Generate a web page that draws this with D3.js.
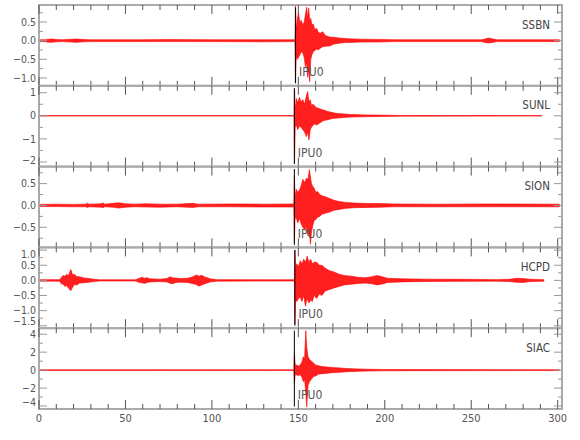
<!DOCTYPE html>
<html>
<head>
<meta charset="utf-8">
<script src="https://cdn.jsdelivr.net/npm/d3@7"></script>
<style>
body { margin: 0; background: #fff; }
svg { display: block; font-family: "DejaVu Sans Condensed", "DejaVu Sans", sans-serif; }
</style>
</head>
<body>
<div id="chart"></div>
<script>
const stations = ["SSBN", "SUNL", "SION", "HCPD", "SIAC"];
const pickTimes = [148.4, 147.7, 147.7, 148.0, 147.7];
const pickLabel = "IPU0";
const yMin = [-1.21, -2.2, -0.96, -1.58, -4.33];
const yMax = [0.957, 1.3, 0.89, 1.09, 4.67];
const majorStep = [0.5, 1, 0.5, 0.5, 2];
const minorStep = [0.25, 0.5, 0.25, 0.25, 1];
const labelFormat = [".1f", "d", ".1f", ".1f", "d"];
const xTicks = [0, 50, 100, 150, 200, 250, 300];
const timeMax = 302.5;

// trace envelopes: [time s, max, min]
const ssbn = [[0,.025,-.025],[4,.025,-.025],[5,.04,-.04],[8,.045,-.04],[10,.03,-.03],[14,.025,-.025],[18,.04,-.035],[22,.045,-.045],[26,.03,-.03],[30,.025,-.025],[60,.025,-.025],[75,.03,-.025],[100,.025,-.025],[130,.025,-.03],[148,.025,-.025],
  [148.3,.93,-1.12],[148.8,.3,-.4],[149.4,.6,-.5],[150.1,.74,-.45],[150.9,.47,-.38],[151.6,.55,-.3],[152.6,.42,-.33],[153.4,.5,-.45],[154.1,.7,-.7],[154.8,.9,-.6],[155.4,.6,-.98],[156,.88,-.8],[156.6,.5,-1.1],[157.2,.6,-.5],[157.8,.42,-.38],[158.6,.45,-.3],[159.6,.3,-.26],[160.6,.33,-.22],[161.6,.22,-.25],[162.6,.2,-.2],[164.1,.24,-.16],[165.6,.14,-.15],[168.1,.1,-.14],[170.6,.09,-.09],[173.6,.07,-.07],[176.6,.06,-.05],[179.6,.05,-.05],[186,.04,-.035],[196,.035,-.035],[206,.025,-.025],[256,.025,-.025],[258,.045,-.05],[260,.07,-.06],[262,.05,-.05],[265,.025,-.025],[301,.025,-.025]];

const sunl = [[0,.01,-.01],[147.5,.01,-.01],[147.8,1.2,-2.0],[148.2,.3,-.5],[148.9,.75,-.4],[149.6,.55,-.6],[150.6,.8,-.45],[151.6,.6,-.5],[152.6,.7,-.6],[153.6,.5,-.7],[154.6,.85,-.9],[155.4,1.05,-.7],[156.1,.6,-1.05],[156.9,.7,-.6],[157.6,.45,-.5],[158.6,.5,-.4],[159.6,.4,-.35],[160.6,.35,-.4],[162.6,.3,-.3],[164.6,.25,-.2],[166.6,.2,-.18],[169.6,.14,-.12],[172.6,.1,-.1],[176.6,.08,-.07],[180.6,.06,-.05],[188,.04,-.04],[196,.03,-.03],[210,.015,-.015],[290.8,.01,-.01]];

const sion = [[0,.025,-.025],[10,.03,-.025],[20,.025,-.03],[27,.03,-.03],[28,.05,-.045],[29,.03,-.03],[36,.04,-.04],[37,.06,-.05],[38,.03,-.03],[43,.05,-.04],[46,.06,-.06],[50,.04,-.04],[55,.03,-.03],[62,.04,-.035],[70,.03,-.04],[80,.03,-.03],[89,.05,-.045],[92,.03,-.03],[110,.035,-.03],[130,.03,-.035],[147.4,.035,-.035],
  [147.7,.67,-.85],[148.1,.2,-.3],[148.8,.37,-.28],[149.6,.3,-.4],[150.6,.35,-.3],[151.6,.45,-.42],[152.6,.6,-.5],[153.6,.52,-.55],[154.6,.62,-.5],[155.6,.6,-.7],[156.4,.82,-.6],[157,.65,-.89],[157.6,.5,-.6],[158.3,.44,-.47],[159.1,.4,-.35],[160.1,.3,-.32],[161.1,.32,-.27],[162.4,.25,-.25],[163.6,.22,-.2],[165.6,.2,-.18],[168.1,.16,-.15],[170.6,.12,-.11],[173.6,.09,-.09],[177.6,.07,-.065],[182.6,.055,-.05],[190,.045,-.045],[197,.045,-.04],[205,.035,-.03],[230,.03,-.03],[260,.035,-.03],[301,.03,-.03]];

const hcpd = [[0,.025,-.025],[12,.025,-.025],[13,.1,-.12],[14,.16,-.12],[15,.14,-.2],[16,.2,-.17],[17,.15,-.25],[18.4,.36,-.34],[19.5,.18,-.22],[20.5,.2,-.14],[22,.12,-.15],[23.5,.12,-.09],[26,.08,-.08],[29,.06,-.06],[32,.035,-.035],[35,.02,-.02],[56,.02,-.02],[58,.07,-.07],[59.5,.1,-.08],[61,.07,-.1],[62.5,.09,-.07],[64,.05,-.05],[70,.04,-.04],[74,.06,-.05],[76,.12,-.1],[77.5,.08,-.11],[79,.08,-.07],[82,.06,-.06],[86,.07,-.07],[89,.12,-.11],[91,.18,-.14],[92.5,.14,-.19],[94,.17,-.15],[96,.11,-.11],[99,.05,-.05],[103,.025,-.025],[147.7,.02,-.02],
  [148,1.0,-1.45],[148.4,.4,-.6],[149.1,.55,-.7],[150.1,.45,-.6],[151.1,.65,-.55],[152.1,.55,-.7],[153.1,.7,-.5],[154.1,.6,-.85],[155.1,.8,-.6],[156.1,.6,-.75],[157.1,.7,-.65],[158.1,.55,-.7],[159.1,.6,-.5],[160.6,.6,-.6],[162.1,.5,-.45],[163.6,.5,-.5],[165.6,.4,-.35],[168.1,.32,-.3],[170.6,.28,-.25],[173.6,.2,-.2],[176.6,.16,-.15],[180.6,.14,-.13],[184.6,.1,-.1],[188.6,.09,-.09],[192.6,.12,-.11],[195.6,.16,-.15],[198.6,.12,-.12],[201.6,.07,-.07],[210,.05,-.05],[225,.04,-.035],[245,.035,-.03],[265,.025,-.025],[272,.035,-.035],[276,.07,-.06],[280,.06,-.07],[284,.04,-.04],[292,.025,-.025]];

const siac = [[0,.04,-.04],[147.4,.05,-.05],[147.7,1.9,-1.45],[148.2,.6,-.5],[149.1,.55,-.55],[150.1,.45,-.6],[151.1,.6,-.5],[152.1,.9,-.8],[152.9,1.5,-1.3],[153.6,1.2,-1.0],[154.3,4.4,-2.5],[154.9,2.5,-4.1],[155.6,1.5,-1.7],[156.4,1.2,-1.3],[157.6,1.0,-1.0],[158.8,.8,-.7],[160.1,.55,-.65],[161.6,.5,-.45],[163.6,.4,-.4],[166.6,.35,-.35],[169.6,.3,-.28],[173.6,.25,-.25],[178.6,.17,-.17],[184.6,.13,-.13],[190,.1,-.1],[200,.07,-.07],[220,.06,-.06],[301,.05,-.05]];

const traces = [ssbn, sunl, sion, hcpd, siac];

const width = 580, height = 440;
const margin = { top: 5, left: 39, right: 18 };
const panelH = 80.8;
const labelInset = 6.5;

const svg = d3.select("#chart")
    .append("svg")
    .attr("width", width)
    .attr("height", height);

svg.append("rect").attr("width", width).attr("height", height).attr("fill", "#fff");

const x = d3.scaleLinear()
    .domain([0, timeMax])
    .range([margin.left, width - margin.right]);

const area = d3.area()
    .x(d => x(d[0]));

const xMinor = d3.range(0, 301, 10);

stations.forEach((name, i) => {
    const top = margin.top + i * panelH;
    const g = svg.append("g").attr("transform", `translate(0,${top})`);

    const y = d3.scaleLinear()
        .domain([yMin[i], yMax[i]])
        .range([panelH, 0]);

    g.append("clipPath")
        .attr("id", "clip" + i)
        .append("rect")
        .attr("x", x.range()[0])
        .attr("width", x.range()[1] - x.range()[0])
        .attr("height", panelH);

    g.append("path")
        .datum(traces[i])
        .attr("clip-path", `url(#clip${i})`)
        .attr("d", area.y0(d => y(d[2])).y1(d => y(d[1])))
        .attr("fill", "#ff0000")
        .attr("fill-opacity", 0.88)
        .attr("stroke", "#ff0000")
        .attr("stroke-width", 0.6)
        .attr("stroke-linejoin", "round");

    // pick marker
    g.append("line")
        .attr("x1", x(pickTimes[i])).attr("x2", x(pickTimes[i]))
        .attr("y1", 2.5).attr("y2", panelH - 2.5)
        .attr("stroke", "#000")
        .attr("stroke-width", 1);

    g.append("text")
        .attr("x", x(pickTimes[i]) + 3.5)
        .attr("y", 71)
        .attr("font-size", 12)
        .attr("fill", "#555")
        .text(pickLabel);

    g.append("text")
        .attr("x", 550)
        .attr("y", 23.7)
        .attr("text-anchor", "end")
        .attr("font-size", 11.5)
        .attr("fill", "#444")
        .text(name);

    // frame
    g.append("rect")
        .attr("x", x.range()[0])
        .attr("y", 0)
        .attr("width", x.range()[1] - x.range()[0])
        .attr("height", panelH)
        .attr("fill", "none")
        .attr("stroke", "#aaa")
        .attr("stroke-width", 2);

    // time ticks on top and bottom edges
    xMinor.forEach(t => {
        const len = t % 50 === 0 ? 9 : 5;
        g.append("line")
            .attr("x1", x(t)).attr("x2", x(t))
            .attr("y1", 0).attr("y2", len)
            .attr("stroke", "#555");
        g.append("line")
            .attr("x1", x(t)).attr("x2", x(t))
            .attr("y1", panelH).attr("y2", panelH - len)
            .attr("stroke", "#555");
    });

    // amplitude ticks on left and right edges
    const minor = d3.range(Math.ceil(yMin[i] / minorStep[i]), Math.floor(yMax[i] / minorStep[i]) + 1)
        .map(k => k * minorStep[i]);
    const fmt = d3.format(labelFormat[i]);
    minor.forEach(v => {
        const major = Math.abs(v / majorStep[i] - Math.round(v / majorStep[i])) < 1e-6;
        const len = major ? 8 : 4;
        g.append("line")
            .attr("x1", x.range()[0]).attr("x2", x.range()[0] + len)
            .attr("y1", y(v)).attr("y2", y(v))
            .attr("stroke", "#999");
        g.append("line")
            .attr("x1", x.range()[1]).attr("x2", x.range()[1] - len)
            .attr("y1", y(v)).attr("y2", y(v))
            .attr("stroke", "#999");
        if (major) {
            // keep edge labels from running into the next panel's labels
            const ly = Math.min(Math.max(y(v), labelInset), panelH - labelInset);
            g.append("text")
                .attr("x", x.range()[0] - 3)
                .attr("y", ly)
                .attr("dy", "0.35em")
                .attr("text-anchor", "end")
                .attr("font-size", 10.5)
                .attr("fill", "#555")
                .text(fmt(v));
        }
    });

    if (i === stations.length - 1) {
        xTicks.forEach(t => {
            g.append("text")
                .attr("x", x(t))
                .attr("y", panelH + 13)
                .attr("text-anchor", "middle")
                .attr("font-size", 11)
                .attr("fill", "#555")
                .text(t);
        });
    }
});
</script>
</body>
</html>
